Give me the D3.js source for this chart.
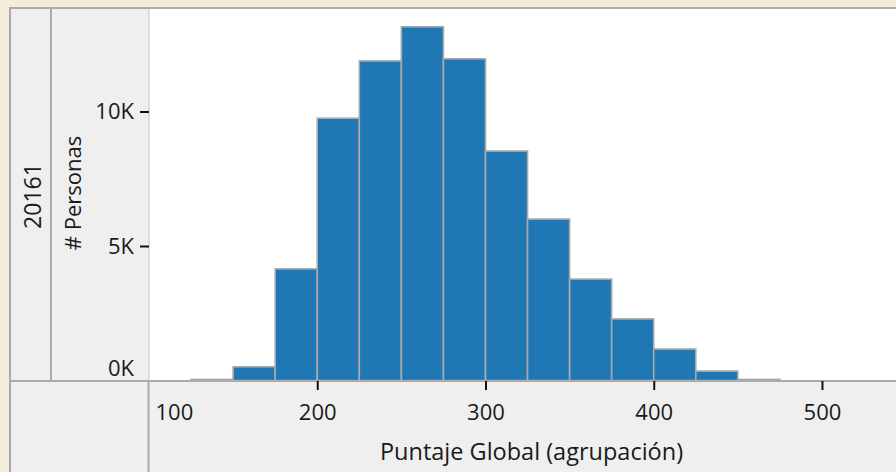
<!DOCTYPE html>
<html>
<head>
<meta charset="utf-8">
<script src="https://cdn.jsdelivr.net/npm/d3@7/dist/d3.min.js"></script>
<style>
  html, body { margin: 0; padding: 0; background: #f3ecdb; }
  svg { display: block; }
  text { font-family: "Open Sans", "Noto Sans", sans-serif; fill: #1a1a1a; }
</style>
</head>
<body>
<svg id="chart" width="896" height="472"></svg>
<script>
// ---- data ----
const binStarts = [125, 150, 175, 200, 225, 250, 275, 300, 325, 350, 375, 400, 425, 450];
const binWidth = 25;
const counts = [40, 510, 4150, 9750, 11880, 13150, 11960, 8530, 6000, 3770, 2290, 1170, 350, 40];
const xTicks = [100, 200, 300, 400, 500];
const yTicks = [0, 5000, 10000];
const rowLabel = "20161";
const yTitle = "# Personas";
const xTitle = "Puntaje Global (agrupación)";

const W = 896, H = 472;
const frameL = 10, frameT = 8;
const divX = 51;
const plotL = 149, plotR = 896, plotT = 9, plotB = 381;
const FS = 22;

const svg = d3.select("#chart");

// background
svg.append("rect").attr("width", W).attr("height", H).attr("fill", "#f3ecdb");
// outer frame panel
svg.append("rect")
  .attr("x", frameL).attr("y", frameT)
  .attr("width", W - frameL + 10).attr("height", H - frameT + 10)
  .attr("fill", "#efefef").attr("stroke", "#ababab").attr("stroke-width", 2);

// plot area
svg.append("rect")
  .attr("x", plotL).attr("y", plotT)
  .attr("width", plotR - plotL).attr("height", plotB - plotT)
  .attr("fill", "#ffffff");

// dividers
svg.append("line").attr("x1", divX).attr("x2", divX).attr("y1", plotT).attr("y2", plotB)
  .attr("stroke", "#ababab").attr("stroke-width", 2);
svg.append("line").attr("x1", plotL).attr("x2", plotL).attr("y1", plotT).attr("y2", plotB)
  .attr("stroke", "#c4c4c4").attr("stroke-width", 1);
svg.append("line").attr("x1", plotL - 0.5).attr("x2", plotL - 0.5).attr("y1", plotB).attr("y2", H)
  .attr("stroke", "#ababab").attr("stroke-width", 2);

const x = d3.scaleLinear().domain([100, 544]).range([plotL, plotR]);
const y = d3.scaleLinear().domain([0, 13810]).range([380.5, plotT]);

// bars
const bins = binStarts.map((s, i) => ({ x0: s, x1: s + binWidth, v: counts[i] }));
svg.append("g").selectAll("rect").data(bins).join("rect")
  .attr("x", d => x(d.x0))
  .attr("y", d => y(d.v))
  .attr("width", d => x(d.x1) - x(d.x0))
  .attr("height", d => Math.max(0, y(0) - y(d.v)))
  .attr("fill", "#1f77b4")
  .attr("stroke", "#a9a9a9")
  .attr("stroke-width", 1.6);

// bottom border line of plot
svg.append("line").attr("x1", frameL).attr("x2", W).attr("y1", plotB).attr("y2", plotB)
  .attr("stroke", "#ababab").attr("stroke-width", 2);

// x axis
const xAxis = svg.append("g").attr("transform", `translate(0,${plotB})`)
  .call(d3.axisBottom(x).tickValues(xTicks).tickSize(9).tickPadding(14).tickFormat(d3.format("d")));
xAxis.select(".domain").remove();
xAxis.selectAll(".tick line").attr("stroke", "#111").attr("stroke-width", 2)
  .attr("opacity", d => d === 100 ? 0 : 1);
xAxis.selectAll(".tick text").attr("font-size", FS).attr("fill", "#1a1a1a")
  .attr("font-family", "Open Sans, Noto Sans, sans-serif")
  .attr("text-anchor", d => d === 100 ? "start" : "middle")
  .attr("dx", d => d === 100 ? 6 : 0);

// y axis
const yAxis = svg.append("g").attr("transform", `translate(${plotL},0)`)
  .call(d3.axisLeft(y).tickValues(yTicks).tickSize(9).tickPadding(6).tickFormat(d => (d / 1000) + "K"));
yAxis.select(".domain").remove();
yAxis.selectAll(".tick line").attr("stroke", "#111").attr("stroke-width", 2)
  .attr("opacity", d => d === 0 ? 0 : 1);
yAxis.selectAll(".tick text").attr("font-size", FS).attr("fill", "#1a1a1a")
  .attr("font-family", "Open Sans, Noto Sans, sans-serif")
  .attr("dy", d => d === 0 ? "-0.22em" : "0.34em");

// titles
svg.append("text")
  .attr("transform", `translate(72,${(plotT + plotB) / 2 - 2}) rotate(-90)`)
  .attr("text-anchor", "middle").attr("dominant-baseline", "central")
  .attr("font-size", FS).text(yTitle);
svg.append("text")
  .attr("transform", `translate(32,${(plotT + plotB) / 2 + 1}) rotate(-90)`)
  .attr("text-anchor", "middle").attr("dominant-baseline", "central")
  .attr("font-size", FS + 1).text(rowLabel);
svg.append("text")
  .attr("x", (plotL + plotR) / 2 + 9).attr("y", 460)
  .attr("text-anchor", "middle")
  .attr("font-size", FS + 1.5).text(xTitle);
</script>
</body>
</html>
